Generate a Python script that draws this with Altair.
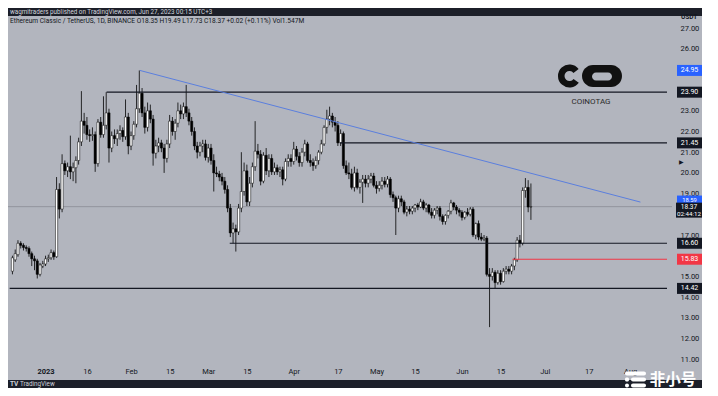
import altair as alt
import pandas as pd

# ---------------- data ----------------
FIRST_DAY = "2022-12-20"   # daily candles, ETC/USDT

opens = [15.25, 15.8, 16.05, 16.6, 16.5, 16.4, 16.35, 16.1, 15.85, 15.75,
         15.1, 15.5, 15.6, 15.85, 15.9, 16.15, 15.95, 19.2, 18.25, 20.45,
         20.1, 20.3, 20.05, 20.25, 20.6, 21.5, 22.5, 22.3, 21.85, 21.8,
         21.85, 20.45, 22.45, 21.85, 22.3, 22.9, 21.2, 21.8, 21.65, 21.9,
         22.05, 21.75, 22.7, 21.3, 21.8, 22.35, 23.1, 23.85, 22.9, 22.2,
         23.0, 22.6, 20.95, 21.3, 21.45, 21.2, 20.7, 21.4, 22.5, 22.0,
         22.4, 23.0, 22.85, 23.2, 22.9, 22.5, 22.0, 21.3, 21.0, 21.3,
         21.4, 20.75, 21.2, 20.6, 20.0, 19.95, 19.8, 19.6, 19.2, 18.3,
         17.1, 17.3, 17.15, 18.3, 19.1, 20.1, 18.6, 19.5, 20.3, 21.05,
         20.9, 19.6, 20.85, 20.1, 20.7, 20.05, 20.25, 20.05, 20.15, 19.7,
         20.55, 20.7, 20.55, 21.15, 20.8, 20.5, 21.0, 21.4, 20.6, 20.5,
         20.35, 20.6, 21.0, 21.4, 22.2, 22.6, 22.75, 22.45, 22.3, 21.45,
         21.9, 20.35, 20.0, 19.95, 19.3, 20.0, 19.3, 19.55, 19.7, 19.5,
         19.7, 19.85, 19.4, 19.25, 19.4, 19.6, 19.45, 19.7, 18.95, 18.8,
         18.3, 18.75, 18.6, 18.1, 18.25, 18.15, 18.3, 18.45, 18.35, 18.6,
         18.3, 18.45, 18.1, 17.95, 18.2, 18.3, 17.9, 17.65, 17.95, 18.15,
         18.55, 18.35, 18.2, 18.1, 17.85, 18.1, 18.0, 18.25, 17.0, 17.55,
         16.9, 16.8, 16.85, 15.1, 15.0, 15.2, 14.7, 15.15, 14.75, 15.25,
         15.35, 15.25, 15.5, 15.8, 16.75, 16.6, 19.15, 19.3, 18.35]

highs = [16.0, 16.3, 16.75, 16.7, 16.6, 16.5, 16.45, 16.2, 16.0, 15.85,
         15.65, 15.75, 16.0, 16.05, 16.3, 16.25, 19.8, 19.5, 20.9, 20.6,
         20.5, 21.8, 20.5, 20.8, 21.7, 23.95, 22.9, 22.7, 22.1, 22.2,
         22.0, 22.6, 22.7, 23.7, 23.9, 23.1, 22.0, 22.1, 22.1, 22.3,
         22.2, 23.55, 22.9, 22.0, 22.5, 24.25, 24.95, 24.1, 23.2, 23.4,
         23.3, 22.8, 21.6, 21.7, 21.6, 21.4, 21.6, 22.8, 22.7, 22.6,
         23.4, 23.3, 23.4, 24.25, 23.1, 22.7, 22.2, 21.5, 21.5, 21.6,
         21.6, 21.4, 21.4, 20.9, 20.3, 20.1, 20.0, 19.8, 19.4, 18.5,
         17.6, 17.5, 18.5, 21.0, 20.5, 20.4, 19.8, 20.5, 22.5, 21.4,
         21.1, 21.0, 21.2, 20.9, 20.9, 20.5, 20.4, 20.3, 20.3, 20.7,
         20.9, 20.9, 21.5, 21.3, 21.0, 21.2, 21.6, 21.5, 20.9, 20.7,
         20.8, 21.1, 21.6, 22.3, 23.05, 23.2, 22.9, 22.7, 22.5, 22.1,
         22.0, 20.6, 20.5, 20.2, 20.3, 20.2, 19.7, 19.9, 19.9, 19.9,
         20.0, 20.0, 19.6, 19.6, 19.8, 19.8, 19.85, 19.8, 19.1, 18.9,
         18.9, 18.9, 18.7, 18.4, 18.4, 18.4, 18.5, 18.55, 18.75, 18.7,
         18.55, 18.5, 18.3, 18.3, 18.4, 18.4, 18.0, 18.0, 18.2, 18.7,
         18.6, 18.45, 18.3, 18.2, 18.15, 18.3, 18.35, 18.35, 17.6, 17.7,
         17.1, 17.0, 16.95, 15.4, 15.4, 15.3, 15.3, 15.3, 15.4, 15.5,
         15.5, 15.6, 15.9, 16.9, 17.0, 19.3, 19.75, 19.65, 19.49]

lows = [15.1, 15.7, 15.95, 16.35, 16.25, 16.2, 15.95, 15.5, 15.3, 14.9,
        15.0, 15.4, 15.5, 15.7, 15.8, 15.8, 15.9, 17.8, 18.1, 19.9,
        19.8, 19.7, 19.6, 19.5, 20.4, 21.3, 21.9, 21.6, 21.5, 21.55,
        20.05, 20.3, 21.7, 21.7, 22.1, 20.5, 21.0, 21.4, 21.3, 21.6,
        21.5, 21.6, 20.9, 21.1, 21.6, 22.2, 22.9, 22.7, 21.9, 22.0,
        22.4, 20.35, 20.7, 21.0, 21.0, 20.0, 20.5, 21.2, 21.8, 21.6,
        22.2, 22.6, 22.6, 22.7, 22.3, 21.8, 21.1, 20.7, 20.8, 21.0,
        20.6, 20.5, 20.4, 19.1, 19.8, 19.6, 19.4, 19.0, 18.1, 16.9,
        16.6, 16.2, 17.0, 18.1, 18.9, 18.4, 18.4, 19.3, 20.1, 20.7,
        19.4, 19.5, 19.9, 19.8, 19.9, 19.9, 19.9, 19.8, 19.4, 19.6,
        20.3, 20.3, 20.4, 20.6, 20.3, 20.3, 20.8, 20.5, 20.3, 20.1,
        20.2, 20.4, 20.9, 21.3, 21.9, 22.3, 22.2, 22.0, 21.3, 21.3,
        20.2, 19.9, 19.7, 19.2, 19.1, 19.2, 19.0, 18.55, 19.3, 19.3,
        19.5, 19.3, 19.0, 19.1, 19.2, 19.3, 19.3, 18.8, 18.6, 17.0,
        18.1, 18.4, 18.0, 17.9, 18.0, 18.0, 18.1, 18.2, 18.3, 18.2,
        18.1, 18.0, 17.8, 17.8, 18.0, 17.7, 17.5, 17.5, 17.8, 18.0,
        18.2, 18.0, 17.9, 17.7, 17.75, 17.9, 17.9, 16.9, 16.8, 16.75,
        16.7, 16.7, 15.0, 12.55, 14.8, 14.44, 14.6, 14.6, 14.7, 15.1,
        15.1, 15.1, 15.3, 15.7, 16.4, 16.5, 18.8, 18.1, 17.73]

closes = [15.9, 16.1, 16.6, 16.5, 16.4, 16.35, 16.1, 15.85, 15.75, 15.1,
          15.55, 15.6, 15.85, 15.9, 16.15, 15.95, 19.2, 18.25, 20.45, 20.1,
          20.3, 20.05, 20.25, 20.6, 21.5, 22.5, 22.3, 21.85, 21.8, 21.85,
          20.45, 22.45, 21.85, 22.3, 22.9, 21.2, 21.8, 21.65, 21.9, 22.05,
          21.75, 22.7, 21.3, 21.8, 22.35, 23.1, 23.85, 22.9, 22.2, 23.0,
          22.6, 20.95, 21.3, 21.45, 21.2, 20.7, 21.4, 22.5, 22.0, 22.4,
          23.0, 22.85, 23.2, 22.9, 22.5, 22.0, 21.3, 21.0, 21.3, 21.4,
          20.75, 21.2, 20.6, 20.0, 19.95, 19.8, 19.6, 19.2, 18.3, 17.1,
          17.3, 17.15, 18.3, 19.1, 20.1, 18.6, 19.5, 20.3, 21.05, 20.9,
          19.6, 20.85, 20.1, 20.7, 20.05, 20.25, 20.05, 20.15, 19.7, 20.55,
          20.7, 20.55, 21.15, 20.8, 20.5, 21.0, 21.4, 20.6, 20.5, 20.35,
          20.6, 21.0, 21.4, 22.2, 22.6, 22.75, 22.45, 22.3, 21.45, 21.9,
          20.35, 20.0, 19.95, 19.3, 20.0, 19.3, 19.55, 19.7, 19.5, 19.7,
          19.85, 19.4, 19.25, 19.4, 19.6, 19.45, 19.7, 18.95, 18.8, 18.3,
          18.75, 18.6, 18.1, 18.25, 18.15, 18.3, 18.45, 18.35, 18.6, 18.3,
          18.45, 18.1, 17.95, 18.2, 18.3, 17.9, 17.65, 17.95, 18.15, 18.55,
          18.35, 18.2, 18.1, 17.85, 18.1, 18.0, 18.25, 17.0, 17.55, 16.9,
          16.8, 16.85, 15.1, 15.0, 15.2, 14.7, 15.15, 14.75, 15.25, 15.35,
          15.25, 15.5, 15.8, 16.75, 16.6, 19.15, 19.3, 18.35, 18.37]

level_prices = [23.90, 21.45, 16.60, 15.83, 14.42]
level_starts = ["2023-01-23T03:00", "2023-04-17T19:00", "2023-03-08T19:00",
                "2023-06-19T07:00", "2022-12-19T00:00"]
level_colors = ["#131722", "#131722", "#131722", "#f23645", "#131722"]

trend_dates = ["2023-02-04T05:00", "2023-08-04T17:00"]
trend_prices = [24.95, 18.59]

last_price = 18.37
countdown = "02:44:12"

tag_prices = [24.95, 23.90, 21.45, 16.60, 15.83, 14.42]
tag_colors = ["#2962ff", "#131722", "#131722", "#131722", "#f23645", "#131722"]
trend_end_tag = 18.59

# price labels that are not hidden behind the tags
price_ticks = [11, 12, 13, 14, 15, 17, 19, 20, 21, 22, 23, 26, 27]
tick_dates = ["2023-01-01", "2023-01-16", "2023-02-01", "2023-02-15", "2023-03-01",
              "2023-03-15", "2023-04-01", "2023-04-17", "2023-05-01", "2023-05-15",
              "2023-06-01", "2023-06-15", "2023-07-01", "2023-07-17", "2023-08-01"]
tick_labels = ["2023", "16", "Feb", "15", "Mar", "15", "Apr", "17", "May", "15",
               "Jun", "15", "Jul", "17", "Aug"]

header_text = "wagmitraders published on TradingView.com, Jun 27, 2023 00:15 UTC+3"
legend_text = ("Ethereum Classic / TetherUS, 1D, BINANCE  O18.35  H19.49  L17.73  "
               "C18.37  +0.02 (+0.11%)  Vol1.547M")

# ---------------- helpers ----------------
DAY = 86400000


def ms(s):
    return int(pd.Timestamp(s, tz="UTC").value // 10**6)


W, H = 664, 346
PX_PER_DAY = 2.8
PX_PER_UNIT = 20.7
x0 = ms("2023-01-01") - int(11.8 * DAY)
x1 = x0 + int(W / PX_PER_DAY * DAY)
y_top = 27 + 12 / PX_PER_UNIT
y_bot = 27 - 334 / PX_PER_UNIT

BG = "#b2b5be"
DARK = "#1c1f29"
INK = "#131722"
FONT = "Roboto"

tick_ms = [ms(d) for d in tick_dates]
label_expr = "".join(f"time(datum.value) == {m} ? '{lab}' : " for m, lab in zip(tick_ms, tick_labels)) + "''"

X_SCALE = alt.Scale(type="utc", domain=[x0, x1])
Y_SCALE = alt.Scale(domain=[y_bot, y_top], zero=False, nice=False)
X_AXIS = alt.Axis(values=tick_ms, labelExpr=label_expr, title=None, grid=False,
                  ticks=False, tickSize=0, domain=False, labelPadding=5,
                  labelFontSize=7.5, labelColor=INK, labelFont=FONT,
                  labelOverlap=False, labelFlush=False,
                  labelFontWeight={"condition": {"test": f"time(datum.value) == {tick_ms[0]}",
                                                 "value": "bold"}, "value": "normal"})
Y_AXIS = alt.Axis(values=price_ticks, format=".2f", orient="right", title=None,
                  grid=False, ticks=False, tickSize=0, domain=False, labelPadding=8,
                  labelFontSize=7.5, labelColor=INK, labelFont=FONT,
                  labelOverlap=False, labelFlush=False)


def X(f):
    return alt.X(f, type="temporal", scale=X_SCALE, axis=X_AXIS)


def Y(f):
    return alt.Y(f, type="quantitative", scale=Y_SCALE, axis=Y_AXIS)


one = pd.DataFrame({"k": [0]})

dates = pd.date_range(FIRST_DAY, periods=len(opens), freq="D", tz="UTC")
candles = pd.DataFrame({
    "t": [int(d.value // 10**6) for d in dates],
    "open": opens, "high": highs, "low": lows, "close": closes,
})

levels = pd.DataFrame({
    "t": [ms(s) for s in level_starts],
    "t2": [x1] * len(level_prices),
    "p": level_prices,
    "c": level_colors,
})

trend = pd.DataFrame({"t": [ms(trend_dates[0])], "t2": [ms(trend_dates[1])],
                      "p": [trend_prices[0]], "p2": [trend_prices[1]]})

half = 5.5 / PX_PER_UNIT
tags = pd.DataFrame({"p": tag_prices, "c": tag_colors,
                     "lab": [f"{p:.2f}" for p in tag_prices]})
tags["top"] = tags["p"] + half
tags["bot"] = tags["p"] - half

trend_tag = pd.DataFrame({"p": [trend_end_tag], "top": [trend_end_tag + half + 0.05],
                          "bot": [trend_end_tag - half], "lab": [f"{trend_end_tag:.2f}"]})
last_tag = pd.DataFrame({"p": [last_price], "top": [last_price + 4 / PX_PER_UNIT],
                         "bot": [last_price - 11 / PX_PER_UNIT],
                         "lab": [f"{last_price:.2f}"], "cd": [countdown],
                         "p_cd": [last_price - 7 / PX_PER_UNIT]})

# ---------------- layers ----------------
bands = alt.layer(
    alt.Chart(one).mark_rect(color=DARK).encode(
        x=alt.value(0), x2=alt.value(694), y=alt.value(-8), y2=alt.value(0)),
    alt.Chart(one).mark_rect(color=DARK).encode(
        x=alt.value(0), x2=alt.value(694), y=alt.value(364), y2=alt.value(372)),
)

cur_line = alt.Chart(pd.DataFrame({"p": [last_price]})).mark_rule(
    color="#8a8d96", strokeWidth=0.8).encode(y=Y("p"))

wicks = alt.Chart(candles).mark_rule(color="#000000", strokeWidth=0.8).encode(
    x=X("t"), y=Y("low"), y2="high")

bodies = alt.Chart(candles).mark_bar(size=2.2, stroke="#000000", strokeWidth=0.5).encode(
    x=X("t"), y=Y("open"), y2="close",
    fill=alt.condition("datum.close >= datum.open", alt.value("#ffffff"), alt.value("#000000")))

level_lines = alt.Chart(levels).mark_rule(strokeWidth=1.1).encode(
    x=X("t"), x2="t2", y=Y("p"), color=alt.Color("c:N", scale=None))

trend_line = alt.Chart(trend).mark_rule(color="#5b7fde", strokeWidth=1).encode(
    x=X("t"), x2="t2", y=Y("p"), y2="p2")

# COINOTAG logo
logo = alt.layer(
    alt.Chart(one).mark_arc(theta=2.2, theta2=7.2, radius=11.5, radius2=5,
                            color="#111111").encode(x=alt.value(561.5), y=alt.value(60)),
    alt.Chart(one).mark_rect(cornerRadius=11, color="#111111").encode(
        x=alt.value(574), x2=alt.value(614), y=alt.value(49), y2=alt.value(71)),
    alt.Chart(one).mark_rect(cornerRadius=4, color=BG).encode(
        x=alt.value(584), x2=alt.value(604), y=alt.value(56.5), y2=alt.value(64.5)),
    alt.Chart(one).mark_text(fontSize=8, font=FONT, color="#2b2b2b").encode(
        x=alt.value(583), y=alt.value(86), text=alt.value("COINOTAG")),
)

# price tags on the right scale
tag_boxes = alt.Chart(tags).mark_rect().encode(
    x=alt.value(669), x2=alt.value(694), y=Y("top"), y2="bot",
    color=alt.Color("c:N", scale=None))
tag_text = alt.Chart(tags).mark_text(color="white", fontSize=7, font=FONT).encode(
    x=alt.value(681.5), y=Y("p"), text="lab:N")

ttag_box = alt.Chart(trend_tag).mark_rect(color="#2962ff").encode(
    x=alt.value(669), x2=alt.value(694), y=Y("top"), y2="bot")
ttag_text = alt.Chart(trend_tag).mark_text(color="white", fontSize=5.8, font=FONT, dy=-1.8).encode(
    x=alt.value(681.5), y=Y("p"), text="lab:N")

ltag_box = alt.Chart(last_tag).mark_rect(color=INK).encode(
    x=alt.value(668), x2=alt.value(694), y=Y("top"), y2="bot")
ltag_text = alt.Chart(last_tag).mark_text(color="white", fontSize=6.5, font=FONT, dy=0.5).encode(
    x=alt.value(681), y=Y("p"), text="lab:N")
ltag_cd = alt.Chart(last_tag).mark_text(color="white", fontSize=6.2, font=FONT).encode(
    x=alt.value(681), y=Y("p_cd"), text="cd:N")

texts = alt.layer(
    alt.Chart(one).mark_text(align="left", baseline="middle", fontSize=6.3, font=FONT,
                             color="#d1d4dc").encode(
        x=alt.value(2), y=alt.value(-4), text=alt.value(header_text)),
    alt.Chart(one).mark_text(align="left", baseline="middle", fontSize=6.6, font=FONT,
                             color=INK).encode(
        x=alt.value(2), y=alt.value(5), text=alt.value(legend_text)),
    alt.Chart(one).mark_text(align="left", baseline="middle", fontSize=6.5, font=FONT,
                             fontWeight="bold", color=INK).encode(
        x=alt.value(673), y=alt.value(1), text=alt.value("USDT")),
    alt.Chart(one).mark_text(align="left", baseline="middle", fontSize=6, color=INK).encode(
        x=alt.value(671), y=alt.value(146), text=alt.value("▶")),
    alt.Chart(one).mark_text(align="left", baseline="middle", fontSize=6.5, font=FONT,
                             fontWeight="bold", color="#d1d4dc").encode(
        x=alt.value(2), y=alt.value(368), text=alt.value("TV")),
    alt.Chart(one).mark_text(align="left", baseline="middle", fontSize=6.3, font=FONT,
                             color="#d1d4dc").encode(
        x=alt.value(12), y=alt.value(368), text=alt.value("TradingView")),
)

# 非小号 watermark
watermark = alt.layer(
    alt.Chart(one).mark_rect(cornerRadius=2.5, color="white").encode(
        x=alt.value(617), x2=alt.value(638), y=alt.value(355.5), y2=alt.value(359.5)),
    alt.Chart(one).mark_rect(cornerRadius=1.5, color="white").encode(
        x=alt.value(617), x2=alt.value(621), y=alt.value(361.5), y2=alt.value(365.5)),
    alt.Chart(one).mark_rect(cornerRadius=2.5, color="white").encode(
        x=alt.value(623), x2=alt.value(638), y=alt.value(361.5), y2=alt.value(365.5)),
    alt.Chart(one).mark_rect(cornerRadius=2, color="white").encode(
        x=alt.value(617), x2=alt.value(621), y=alt.value(367.5), y2=alt.value(371.5)),
    alt.Chart(one).mark_rect(cornerRadius=2, color="white").encode(
        x=alt.value(623), x2=alt.value(638), y=alt.value(367.5), y2=alt.value(371.5)),
    alt.Chart(one).mark_text(fontSize=15.5, font="Noto Sans CJK SC", fontWeight="bold",
                             color="white", baseline="middle").encode(
        x=alt.value(665), y=alt.value(363.5), text=alt.value("非小号")),
)

chart = alt.layer(
    bands, cur_line, wicks, bodies, level_lines, trend_line, logo,
    tag_boxes, tag_text, ttag_box, ttag_text, ltag_box, ltag_text, ltag_cd,
    texts, watermark,
).properties(
    width=W, height=H,
    padding={"left": 0, "top": 8, "right": 30, "bottom": 26},
    autosize=alt.AutoSizeParams(type="none"),
    background=BG,
).configure_view(strokeWidth=0, fill=BG)

chart.save("out.html", embed_options={"renderer": "svg", "actions": False})
